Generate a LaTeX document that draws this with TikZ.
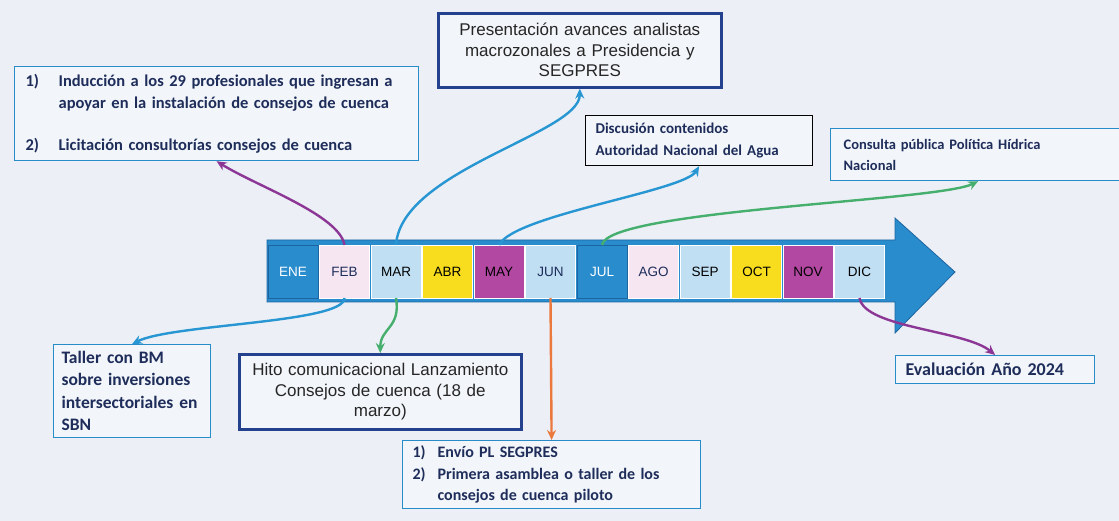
\documentclass[tikz,border=0pt]{standalone}
\usepackage{fontspec}
\setmainfont{Carlito}
\newfontfamily\arialfont{Liberation Sans}
\usepackage{xcolor}
\usepackage{tikz}
\usetikzlibrary{arrows.meta,positioning}
\definecolor{paper}{RGB}{236,240,246}
\definecolor{boxfill}{RGB}{242,245,250}
\definecolor{arrowblue}{RGB}{40,140,205}
\definecolor{arrowdark}{RGB}{30,100,160}
\definecolor{palepink}{RGB}{245,230,242}
\definecolor{paleblue}{RGB}{192,223,243}
\definecolor{sunyellow}{RGB}{248,220,30}
\definecolor{magenta}{RGB}{178,72,162}
\definecolor{navytext}{RGB}{30,45,90}
\definecolor{navyline}{RGB}{35,65,140}
\definecolor{noteline}{RGB}{40,140,200}
\definecolor{linkpurple}{RGB}{140,55,150}
\definecolor{linkgreen}{RGB}{70,175,110}
\definecolor{linkblue}{RGB}{40,150,210}
\definecolor{linkorange}{RGB}{235,120,60}

\begin{document}
\begin{tikzpicture}[
    x=1pt, y=-1pt,
    month/.style={rectangle, draw=white, line width=0.8pt, minimum width=50pt, minimum height=53pt, inner sep=0pt, outer sep=0pt, font=\arialfont\fontsize{13.5}{15}\selectfont},
    note/.style={rectangle, draw=noteline, line width=1.2pt, fill=boxfill, anchor=north west, align=left, inner xsep=10pt, inner ysep=2pt, text=navytext, font=\bfseries\fontsize{16}{22}\selectfont},
    slide/.style={rectangle, draw=navyline, line width=2.6pt, fill=boxfill, anchor=north west, align=center, inner xsep=8pt, inner ysep=2pt, text={black!85}, font=\arialfont\fontsize{17}{20.5}\selectfont},
    link/.style={-{Stealth[length=10pt,width=9pt]}, line width=2.4pt}
]
    \useasboundingbox (0,0) rectangle (1119,521);
    \fill[paper] (0,0) rectangle (1119,521);

    % timeline arrow
    \filldraw[fill=arrowblue, draw=arrowdark, line width=0.8pt]
        (267,240) -- (895,240) -- (895,218) -- (955,272) -- (895,333) -- (895,302) -- (267,302) -- cycle;

    % months
    \node[month, fill=arrowblue, draw=arrowdark, text=white, anchor=north west] (ene) at (268,245) {ENE};
    \node[month, fill=palepink, text=navytext, right=1.5pt of ene] (feb) {FEB};
    \node[month, fill=paleblue, text={RGB:red,110;green,40;blue,130}, right=1.5pt of feb] (mar) {MAR};
    \node[month, fill=sunyellow, text={RGB:red,170;green,100;blue,30}, right=1.5pt of mar] (abr) {ABR};
    \node[month, fill=magenta, text={RGB:red,250;green,215;blue,240}, right=1.5pt of abr] (may) {MAY};
    \node[month, fill=paleblue, text=navytext, right=1.5pt of may] (jun) {JUN};
    \node[month, fill=arrowblue, draw=arrowdark, text=white, right=1.5pt of jun] (jul) {JUL};
    \node[month, fill=palepink, text=navytext, right=1.5pt of jul] (ago) {AGO};
    \node[month, fill=paleblue, text={RGB:red,70;green,40;blue,120}, right=1.5pt of ago] (sep) {SEP};
    \node[month, fill=sunyellow, text={RGB:red,150;green,90;blue,20}, right=1.5pt of sep] (oct) {OCT};
    \node[month, fill=magenta, text={RGB:red,245;green,210;blue,235}, right=1.5pt of oct] (nov) {NOV};
    \node[month, fill=paleblue, text={RGB:red,50;green,60;blue,110}, right=1.5pt of nov] (dic) {DIC};

    % boxes above
    \node[note, inner xsep=11pt, minimum width=404pt, minimum height=94pt, text width=382pt, font=\bfseries\fontsize{16.5}{22}\selectfont] (induccion) at (14,66)
        {\makebox[33pt][l]{1)}Inducción a los 29 profesionales que ingresan a\\
         \hspace*{33pt}apoyar en la instalación de consejos de cuenca\\[20pt]
         \makebox[33pt][l]{2)}Licitación consultorías consejos de cuenca};
    \node[slide, minimum width=283pt, minimum height=74pt, text width=267pt] (presentacion) at (437,12)
        {Presentación avances analistas\\ macrozonales a Presidencia y\\ SEGPRES};
    \node[note, draw={RGB:red,80;green,100;blue,140}, minimum width=227pt, minimum height=50pt, text width=207pt, font=\bfseries\fontsize{15}{22}\selectfont] (discusion) at (585,115)
        {Discusión contenidos\\ Autoridad Nacional del Agua};
    \node[note, inner xsep=13pt, minimum width=295pt, minimum height=52pt, text width=269pt, font=\bfseries\fontsize{14.5}{21}\selectfont] (consulta) at (830,128)
        {Consulta pública Política Hídrica\\ Nacional};

    % boxes below
    \node[note, minimum width=157pt, minimum height=93pt, text width=141pt, inner xsep=8pt, font=\bfseries\fontsize{17.5}{22.4}\selectfont] (taller) at (53,344)
        {Taller con BM\\ sobre inversiones\\ intersectoriales en\\ SBN};
    \node[slide, minimum width=282pt, minimum height=75pt, text width=266pt] (hito) at (238,353)
        {Hito comunicacional Lanzamiento\\ Consejos de cuenca (18 de\\ marzo)};
    \node[note, minimum width=298pt, minimum height=68pt, text width=278pt, font=\bfseries\fontsize{16}{21.5}\selectfont] (envio) at (402,440)
        {\makebox[25pt][l]{1)}Envío PL SEGPRES\\
         \makebox[25pt][l]{2)}Primera asamblea o taller de los\\
         \hspace*{25pt}consejos de cuenca piloto};
    \node[note, minimum width=199pt, minimum height=28pt, text width=179pt, font=\bfseries\fontsize{18}{22}\selectfont] (evaluacion) at (895,355)
        {Evaluación Año 2024};

    % connectors
    \draw[link, linkpurple] (feb.north) .. controls +(-5,-30) and +(40,25) .. (induccion.south);
    \draw[link, linkblue] (mar.north) .. controls +(5,-75) and +(0,45) .. (presentacion.south);
    \draw[link, linkblue] (may.north) .. controls +(15,-30) and +(-15,25) .. (discusion.south);
    \draw[link, linkgreen] (jul.north) .. controls +(5,-35) and +(-40,20) .. (consulta.south);
    \draw[link, linkblue] (feb.south) .. controls +(0,25) and +(40,-20) .. (taller.north);
    \draw[link, linkgreen] (mar.south) .. controls +(5,30) and +(0,-25) .. (hito.north);
    \draw[link, linkorange] (jun.south) -- (envio.north);
    \draw[link, linkpurple] (dic.south) .. controls +(5,30) and +(-30,-25) .. (evaluacion.north);
\end{tikzpicture}
\end{document}
